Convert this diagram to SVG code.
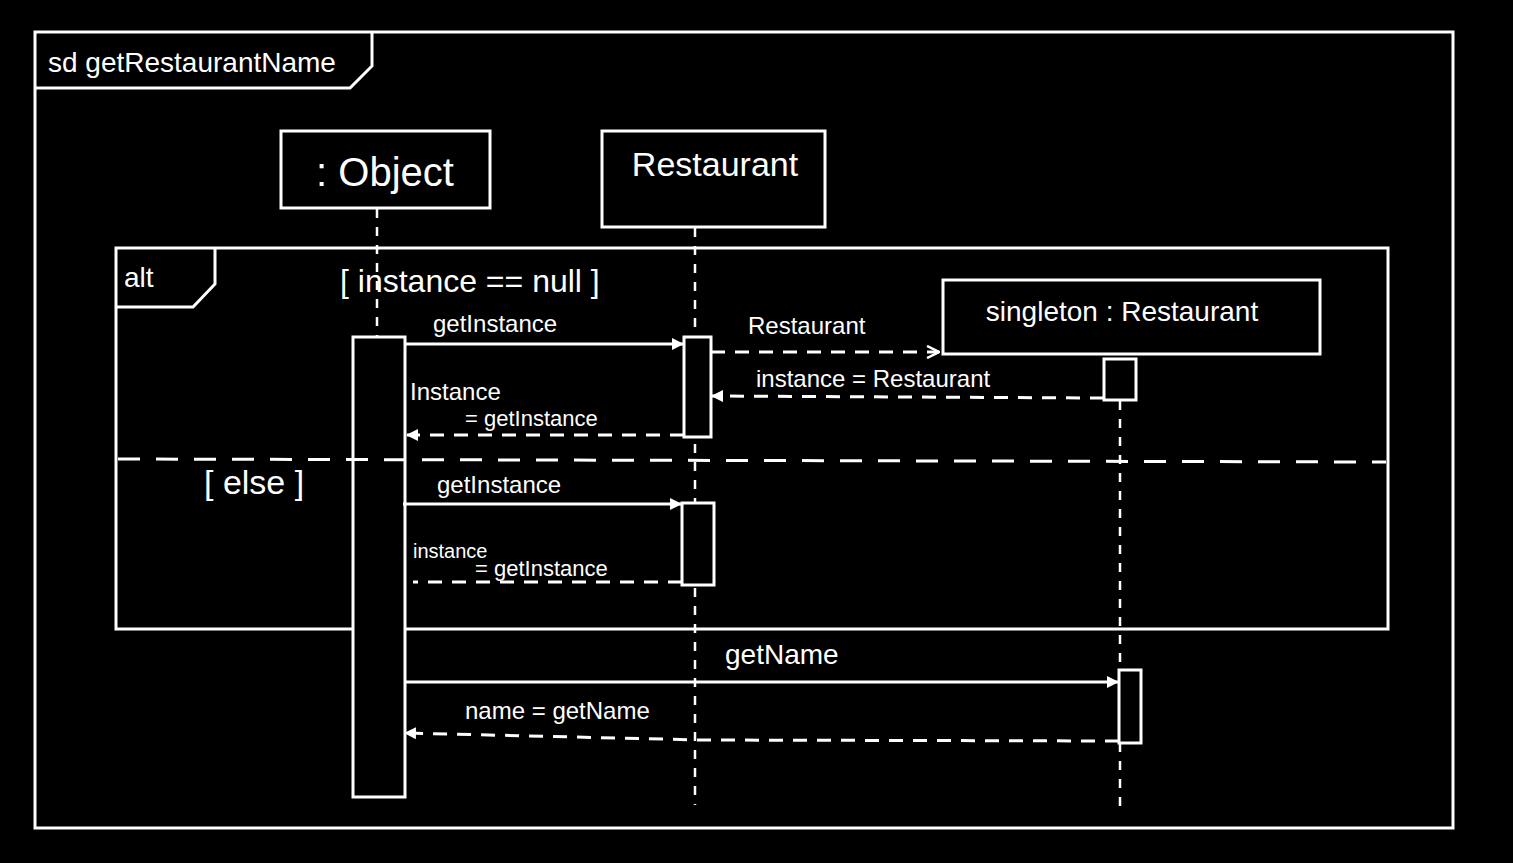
<svg xmlns="http://www.w3.org/2000/svg" width="1513" height="863" viewBox="0 0 1513 863">
<defs>
<style>
.ln{fill:none;stroke:#fff;stroke-width:3}
.box{fill:#000;stroke:#fff;stroke-width:3}
.life{fill:none;stroke:#fff;stroke-width:2.5;stroke-dasharray:9 9}
.ret{fill:none;stroke:#fff;stroke-width:3;stroke-dasharray:14 10}
.sep{fill:none;stroke:#fff;stroke-width:3;stroke-dasharray:22 16}
text{fill:#fff;font-family:"Liberation Sans","DejaVu Sans",sans-serif}
</style>
<marker id="fill" viewBox="0 0 12 12" refX="11" refY="6" markerWidth="12" markerHeight="12" markerUnits="userSpaceOnUse" orient="auto">
<path d="M0,0 L12,6 L0,12 z" fill="#fff"/>
</marker>
<marker id="open" viewBox="0 0 14 14" refX="13" refY="7" markerWidth="14" markerHeight="14" markerUnits="userSpaceOnUse" orient="auto">
<path d="M1,1 L13,7 L1,13" fill="none" stroke="#fff" stroke-width="2.5"/>
</marker>
</defs>
<rect width="1513" height="863" fill="#000"/>

<g id="frame">
<rect class="ln" x="35" y="32" width="1418" height="796"/>
<path class="ln" d="M35,88 H350 L372,66 V32"/>
<text x="48" y="72" font-size="28">sd  getRestaurantName</text>
</g>

<g id="alt">
<rect class="ln" x="116" y="248" width="1272" height="381"/>
<path class="ln" d="M116,307 H193 L215,284 V248"/>
<text x="124" y="287" font-size="28">alt</text>
<text x="340" y="292" font-size="32">[ instance == null ]</text>
<text x="204" y="494" font-size="34">[ else ]</text>
</g>

<g id="lifelines">
<path class="life" d="M377,209 V337"/>
<path class="life" d="M695,228 V805"/>
<path class="life" d="M1120,401 V812"/>
</g>

<g id="object">
<rect class="box" x="281" y="131" width="209" height="77"/>
<text x="385" y="186" font-size="40" text-anchor="middle">: Object</text>
<rect class="box" x="353" y="337" width="52" height="460"/>
</g>

<g id="restaurant">
<rect class="box" x="602" y="131" width="223" height="96"/>
<text x="715" y="176" font-size="34" text-anchor="middle">Restaurant</text>
<rect class="box" x="684" y="337" width="27" height="100"/>
<rect class="box" x="682" y="503" width="32" height="82"/>
</g>

<g id="singleton">
<rect class="box" x="943" y="280" width="377" height="74"/>
<text x="1122" y="321" font-size="28" text-anchor="middle">singleton  : Restaurant</text>
<rect class="box" x="1104" y="359" width="32" height="41"/>
<rect class="box" x="1119" y="670" width="22" height="73"/>
</g>

<g id="alt-separator">
<path class="sep" d="M118,459 L1386,462"/>
</g>

<g id="connectors">
<path class="ln" d="M405,344 H683" marker-end="url(#fill)"/>
<text x="433" y="332" font-size="24">getInstance</text>
<path class="ret" d="M711,352 H939" marker-end="url(#open)"/>
<text x="748" y="334" font-size="24">Restaurant</text>
<path class="ret" d="M1104,398 L712,396" marker-end="url(#fill)"/>
<text x="756" y="387" font-size="24">instance = Restaurant</text>
<path class="ret" d="M684,435 H407" marker-end="url(#fill)"/>
<text x="410" y="400" font-size="24">Instance</text>
<text x="465" y="426" font-size="22">= getInstance</text>
<path class="ln" d="M403,504 H681" marker-end="url(#fill)"/>
<text x="437" y="493" font-size="24">getInstance</text>
<path class="ret" d="M682,582 H413"/>
<text x="413" y="558" font-size="20">instance</text>
<text x="475" y="576" font-size="22">= getInstance</text>
<path class="ln" d="M405,682 H1118" marker-end="url(#fill)"/>
<text x="725" y="664" font-size="28">getName</text>
<path class="ret" d="M1119,741 L700,740 L405,733" marker-end="url(#fill)"/>
<text x="465" y="719" font-size="24">name = getName</text>
</g>
</svg>
